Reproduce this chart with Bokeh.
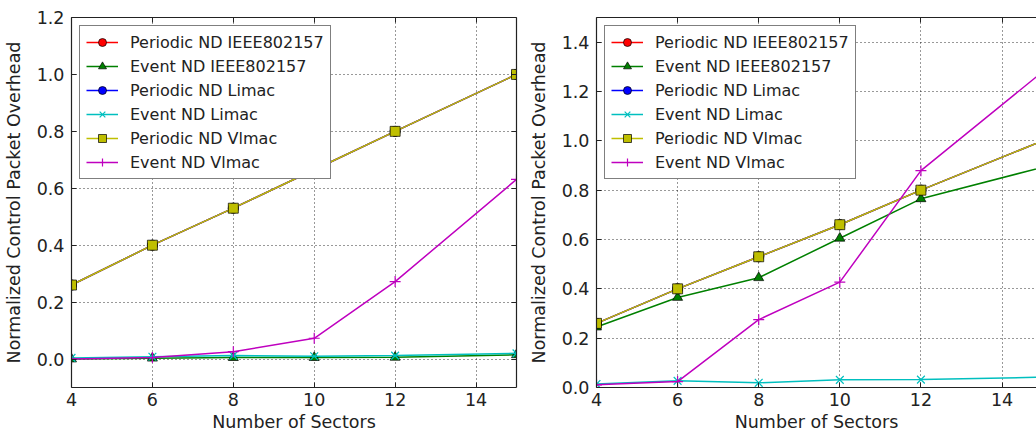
from bokeh.plotting import figure
from bokeh.models import (Range1d, FixedTicker, LinearAxis, Legend, LegendItem,
                          NumeralTickFormatter, CustomJSTickFormatter,
                          ColumnDataSource)
from bokeh.layouts import row
from bokeh.embed import file_html
from bokeh.resources import INLINE

# Number of sectors
sectors = [4, 6, 8, 10, 12, 15]

# Panel 1
p1_periodic_ieee = [0.26, 0.40, 0.53, 0.665, 0.80, 1.00]
p1_event_ieee = [0.0, 0.003, 0.005, 0.005, 0.006, 0.015]
p1_periodic_limac = [0.26, 0.40, 0.53, 0.665, 0.80, 1.00]
p1_event_limac = [0.004, 0.008, 0.012, 0.010, 0.012, 0.020]
p1_periodic_vlmac = [0.26, 0.40, 0.53, 0.665, 0.80, 1.00]
p1_event_vlmac = [0.0, 0.005, 0.026, 0.073, 0.272, 0.631]

# Panel 2
p2_periodic_ieee = [0.26, 0.40, 0.53, 0.66, 0.80, 1.00]
p2_event_ieee = [0.245, 0.365, 0.445, 0.605, 0.765, 0.893]
p2_periodic_limac = [0.26, 0.40, 0.53, 0.66, 0.80, 1.00]
p2_event_limac = [0.014, 0.027, 0.019, 0.031, 0.032, 0.042]
p2_periodic_vlmac = [0.26, 0.40, 0.53, 0.66, 0.80, 1.00]
p2_event_vlmac = [0.011, 0.024, 0.275, 0.427, 0.879, 1.28]

labels = ["Periodic ND IEEE802157", "Event ND IEEE802157", "Periodic ND Limac",
          "Event ND Limac", "Periodic ND Vlmac", "Event ND Vlmac"]
colors = ["#ff0000", "#008000", "#0000ff", "#00bfbf", "#bfbf00", "#bf00bf"]
markers = ["circle", "triangle", "circle", "x", "square", "cross"]

FONT = "DejaVu Sans"
INK = "#222222"


def make_panel(series, y_start, y_end, y_ticks, x_end, width, left_border,
               right_border, right_spine):
    p = figure(width=width, height=438, output_backend="svg", toolbar_location=None,
               x_range=Range1d(4, x_end), y_range=Range1d(y_start, y_end),
               min_border_left=left_border, min_border_right=right_border,
               min_border_top=17, min_border_bottom=51,
               x_axis_label="Number of Sectors",
               y_axis_label="Normalized Control Packet Overhead")
    p.outline_line_color = None
    p.background_fill_color = "white"
    p.border_fill_color = "white"

    xt = FixedTicker(ticks=[4, 6, 8, 10, 12, 14])
    yt = FixedTicker(ticks=y_ticks)

    for ax in p.xaxis:
        ax.ticker = xt
    for ax in p.yaxis:
        ax.ticker = yt
        ax.formatter = NumeralTickFormatter(format="0.0")

    for ax in list(p.xaxis) + list(p.yaxis):
        ax.major_tick_in = 5
        ax.major_tick_out = 0
        ax.minor_tick_line_color = None
        ax.axis_line_color = INK
        ax.axis_line_width = 1.2
        ax.major_tick_line_color = INK
        ax.major_label_text_font = FONT
        ax.major_label_text_font_size = "17.5px"
        ax.major_label_text_color = INK
        ax.axis_label_text_font = FONT
        ax.axis_label_text_font_size = "17.5px"
        ax.axis_label_text_font_style = "normal"
        ax.axis_label_text_color = INK
    p.yaxis.major_label_standoff = 7
    p.yaxis.axis_label_standoff = 10
    p.xaxis.major_label_standoff = 5
    p.xaxis.axis_label_standoff = 3

    # spines with inward ticks on the remaining sides, no labels
    blank = CustomJSTickFormatter(code="return ''")
    sides = [("above", xt)]
    if right_spine:
        sides.append(("right", yt))
    for side, tk in sides:
        ax = LinearAxis(ticker=tk, formatter=blank, major_tick_in=5,
                        major_tick_out=0, minor_tick_line_color=None,
                        axis_line_color=INK, axis_line_width=1.2,
                        major_tick_line_color=INK, major_label_standoff=0)
        p.add_layout(ax, side)

    for g in p.grid:
        g.grid_line_color = "#000000"
        g.grid_line_dash = "1 3"
        g.grid_line_width = 1
        g.grid_line_alpha = 0.8
    p.xgrid.ticker = xt
    p.ygrid.ticker = yt

    items = []
    for vals, lab, col, mk in zip(series, labels, colors, markers):
        src = ColumnDataSource(dict(x=sectors, y=vals))
        ln = p.line("x", "y", source=src, line_color=col, line_width=1.5)
        if mk in ("x", "cross"):
            sc = p.scatter("x", "y", source=src, marker=mk, size=11,
                           line_color=col, line_width=1.2)
        else:
            sc = p.scatter("x", "y", source=src, marker=mk, size=10,
                           fill_color=col, line_color="#000000", line_width=0.7)
        items.append(LegendItem(label=lab, renderers=[ln, sc]))

    leg = Legend(items=items, location="top_left", margin=8, padding=6,
                 spacing=4, label_height=20, glyph_height=20, glyph_width=32,
                 label_standoff=12, label_text_font=FONT,
                 label_text_font_size="16px", label_text_color=INK,
                 border_line_color="#000000", border_line_width=1.2,
                 background_fill_color="white", background_fill_alpha=1)
    p.add_layout(leg, "center")
    return p


p1 = make_panel([p1_periodic_ieee, p1_event_ieee, p1_periodic_limac,
                 p1_event_limac, p1_periodic_vlmac, p1_event_vlmac],
                -0.1, 1.2, [0.0, 0.2, 0.4, 0.6, 0.8, 1.0, 1.2], 15,
                520, 70, 4, True)
p2 = make_panel([p2_periodic_ieee, p2_event_ieee, p2_periodic_limac,
                 p2_event_limac, p2_periodic_vlmac, p2_event_vlmac],
                0.0, 1.5, [0.0, 0.2, 0.4, 0.6, 0.8, 1.0, 1.2, 1.4], 14.85,
                516, 76, 0, False)

layout = row(p1, p2, spacing=0)
open("out.html", "w").write(file_html(layout, INLINE))
